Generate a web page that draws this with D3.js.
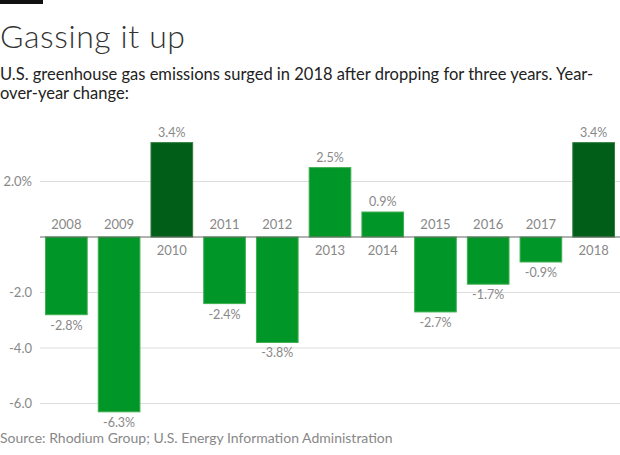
<!DOCTYPE html>
<html>
<head>
    <meta charset="utf-8">
    <style>
        body { margin: 0; background: #fff; }
        svg text { font-family: Lato, "Open Sans", sans-serif; }
        .title { font-size: 32px; font-weight: 300; fill: #333; letter-spacing: 0.6px; }
        .sub { font-size: 16.5px; fill: #222; }
        .tick-lbl { font-size: 13px; fill: #888; }
        .yr { font-size: 13px; fill: #888; }
        .val { font-size: 12.5px; fill: #888; }
        .src { font-size: 14px; fill: #888; }
    </style>
</head>
<body>
    <svg width="620" height="455"></svg>

    <script src="https://d3js.org/d3.v7.min.js"></script>

    <script>
        var years = ["2008","2009","2010","2011","2012","2013","2014","2015","2016","2017","2018"];
        var change = [-2.8, -6.3, 3.4, -2.4, -3.8, 2.5, 0.9, -2.7, -1.7, -0.9, 3.4];
        var highlight = ["2010", "2018"];
        var yTicks = [2, -2, -4, -6];
        var yTickLabels = ["2.0%", "-2.0", "-4.0", "-6.0"];

        var svg = d3.select("svg");

        svg.append("rect").attr("x", 0).attr("y", 0).attr("width", 43).attr("height", 4).attr("fill", "#111");
        svg.append("text").attr("class", "title").attr("x", 0).attr("y", 48).text("Gassing it up");
        svg.append("text").attr("class", "sub").attr("x", 0).attr("y", 80)
            .text("U.S. greenhouse gas emissions surged in 2018 after dropping for three years. Year-");
        svg.append("text").attr("class", "sub").attr("x", 0).attr("y", 99).text("over-year change:");

        var x = d3.scaleBand().domain(years).range([40, 620]).paddingInner(0.21).paddingOuter(0.105);
        var y = d3.scaleLinear().domain([-6, 2]).range([403.5, 181.5]);

        // gridlines
        svg.append("g").selectAll("line").data(yTicks).enter().append("line")
            .attr("x1", 40).attr("x2", 620)
            .attr("y1", function(d) { return y(d); }).attr("y2", function(d) { return y(d); })
            .attr("stroke", "#ddd").attr("stroke-width", 1);

        svg.append("g").selectAll("text").data(yTicks).enter().append("text")
            .attr("class", "tick-lbl")
            .attr("x", 32).attr("y", function(d) { return y(d); })
            .attr("dy", "0.35em").attr("text-anchor", "end")
            .text(function(d, i) { return yTickLabels[i]; });

        var data = years.map(function(yr, i) { return {year: yr, v: change[i]}; });

        svg.append("g").selectAll("rect").data(data).enter().append("rect")
            .attr("x", function(d) { return x(d.year); })
            .attr("width", x.bandwidth())
            .attr("y", function(d) { return y(Math.max(0, d.v)); })
            .attr("height", function(d) { return Math.abs(y(d.v) - y(0)); })
            .attr("fill", function(d) { return highlight.indexOf(d.year) >= 0 ? "#005e18" : "#009628"; })
            .attr("stroke", function(d) { return highlight.indexOf(d.year) >= 0 ? "#2f7a3a" : "#3fae4f"; })
            .attr("stroke-width", 1);

        // zero line
        svg.append("line").attr("x1", 40).attr("x2", 620)
            .attr("y1", y(0)).attr("y2", y(0))
            .attr("stroke", "#666").attr("stroke-width", 1.2);

        // year labels sit on the side opposite the bar
        svg.append("g").selectAll("text").data(data).enter().append("text")
            .attr("class", "yr")
            .attr("x", function(d) { return x(d.year) + x.bandwidth() / 2; })
            .attr("y", function(d) { return d.v < 0 ? y(0) - 8 : y(0) + 18; })
            .attr("text-anchor", "middle")
            .text(function(d) { return d.year; });

        // value labels
        var fmt = d3.format(".1f");
        svg.append("g").selectAll("text").data(data).enter().append("text")
            .attr("class", "val")
            .attr("x", function(d) { return x(d.year) + x.bandwidth() / 2; })
            .attr("y", function(d) { return d.v < 0 ? y(d.v) + 15 : y(d.v) - 6; })
            .attr("text-anchor", "middle")
            .text(function(d) { return fmt(d.v).replace("\u2212", "-") + "%"; });

        svg.append("text").attr("class", "src").attr("x", 0).attr("y", 443)
            .text("Source: Rhodium Group; U.S. Energy Information Administration");
    </script>
</body>
</html>
